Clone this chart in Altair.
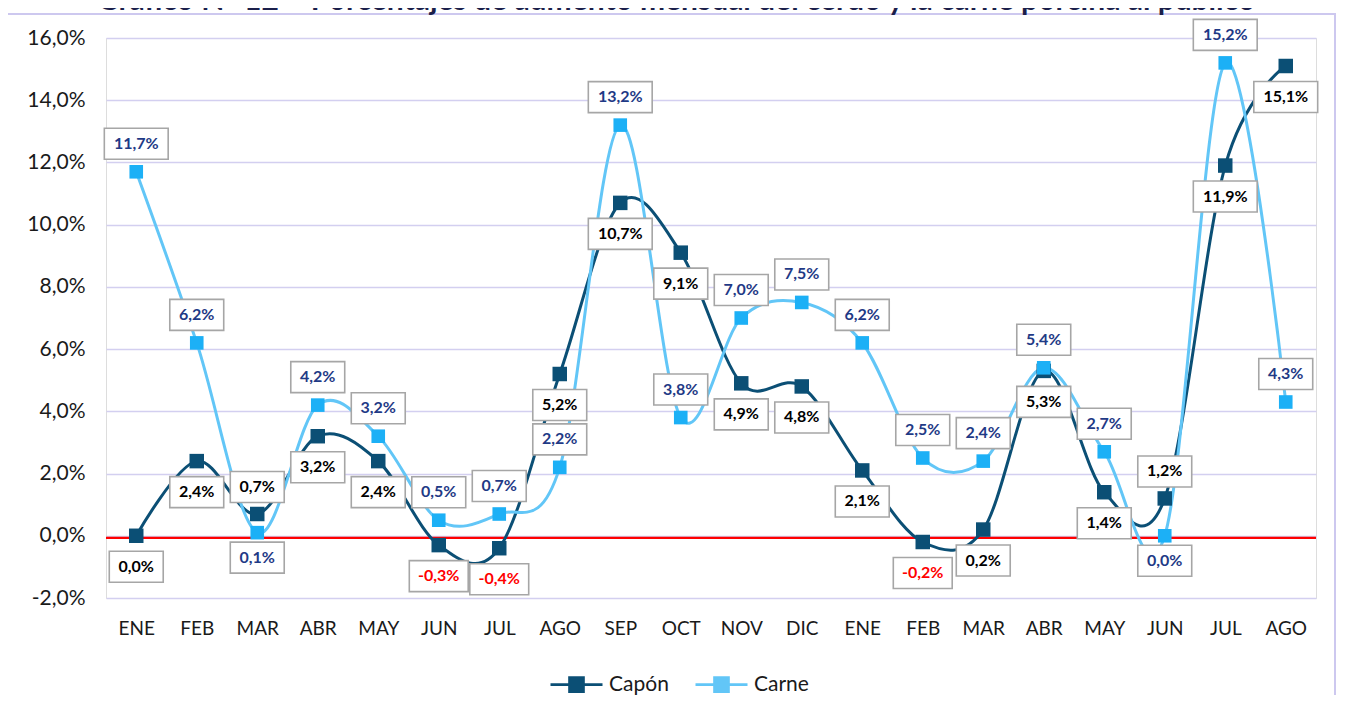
import altair as alt
import pandas as pd

TITLE = "Gráfico N° 12 – Porcentajes de aumento mensual del cerdo y la carne porcina al público"

months = ["ENE", "FEB", "MAR", "ABR", "MAY", "JUN", "JUL", "AGO", "SEP", "OCT",
          "NOV", "DIC", "ENE", "FEB", "MAR", "ABR", "MAY", "JUN", "JUL", "AGO"]
capon = [0.0, 2.4, 0.7, 3.2, 2.4, -0.3, -0.4, 5.2, 10.7, 9.1,
         4.9, 4.8, 2.1, -0.2, 0.2, 5.3, 1.4, 1.2, 11.9, 15.1]
carne = [11.7, 6.2, 0.1, 4.2, 3.2, 0.5, 0.7, 2.2, 13.2, 3.8,
         7.0, 7.5, 6.2, 2.5, 2.4, 5.4, 2.7, 0.0, 15.2, 4.3]
# label placement (above / below the marker)
capon_side = ["below", "below", "above", "below", "below", "below", "below", "below", "below", "below",
              "below", "below", "below", "below", "below", "below", "below", "above", "below", "below"]
carne_side = ["above", "above", "below", "above", "above", "above", "above", "above", "above", "above",
              "above", "above", "above", "above", "above", "above", "above", "below", "above", "above"]
series = ["Capón", "Carne"]
y_ticks = [-2, 0, 2, 4, 6, 8, 10, 12, 14, 16]

COL_CAPON = "#0b4f75"
COL_CARNE_LINE = "#62c6f7"
COL_CARNE_PT = "#1cb0f6"
FONT = "Lato"


def fmt(v):
    return f"{v:.1f}".replace(".", ",") + "%"


rows = []
for name, vals, sides in [("Capón", capon, capon_side), ("Carne", carne, carne_side)]:
    for i, (v, s) in enumerate(zip(vals, sides)):
        lab = fmt(v)
        if name == "Capón":
            tc = "#ff0000" if v < 0 else "#000000"
            pc = COL_CAPON
        else:
            tc = "#1f3a86"
            pc = COL_CARNE_PT
        if lab.startswith("-"):
            half = 0.95
        elif len(lab) >= 5:
            half = 1.03
        else:
            half = 0.87
        rows.append(dict(idx=i, serie=name, value=v, side=s, label=lab, tcolor=tc,
                         pcolor=pc, box=f"M{-half},-0.5H{half}V0.5H{-half}Z"))
df = pd.DataFrame(rows)

month_arr = "[" + ",".join(f"'{m}'" for m in months) + "]"

x_enc = alt.X("idx:O", scale=alt.Scale(type="point", padding=0.5),
              axis=alt.Axis(title=None, labelExpr=month_arr + "[datum.value]", labelAngle=0,
                            domain=False, ticks=False, grid=False, labelPadding=21,
                            labelFontSize=19, labelFont=FONT, labelColor="#1a1a1a"))
y_enc = alt.Y("value:Q", scale=alt.Scale(domain=[-2, 16], nice=False, zero=False),
              axis=alt.Axis(title=None, values=y_ticks,
                            labelExpr="replace(replace(format(datum.value, '.1f'), '.', ','), '\u2212', '-') + '%'",
                            domain=False, ticks=False, grid=True, gridColor="#d3cff0",
                            gridWidth=1.5, labelPadding=21, labelFontSize=21,
                            labelFont=FONT, labelColor="#1a1a1a"))

base = alt.Chart(df)

border = alt.Chart(pd.DataFrame({"k": [0]})).mark_rect(
    fill="transparent", stroke="#cdc8ef", strokeWidth=2
).encode(x=alt.value(-99), x2=alt.value(1229), y=alt.value(-24), y2=alt.value(720))

title = alt.Chart(pd.DataFrame({"t": [TITLE]})).mark_text(
    font=FONT, fontWeight="bold", fontSize=30, color="#1b1f4b",
    align="center", baseline="alphabetic"
).encode(x=alt.value(570), y=alt.value(-28), text="t:N")

zero = alt.Chart(pd.DataFrame({"value": [0.0]})).mark_rule(
    color="#ff0000", strokeWidth=2.2, yOffset=2
).encode(y="value:Q")

# legend symbol: a line with a (solid, via nested outlines) square in the middle
LEG_SYMBOL = ("M-1,0H1"
              "M-0.27,-0.27H0.27V0.27H-0.27Z"
              "M-0.18,-0.18H0.18V0.18H-0.18Z"
              "M-0.09,-0.09H0.09V0.09H-0.09Z"
              "M-0.02,-0.02H0.02V0.02H-0.02Z")

color_enc = alt.Color("serie:N", sort=series,
                      scale=alt.Scale(domain=series, range=[COL_CAPON, COL_CARNE_LINE]),
                      legend=alt.Legend(
                          title=None, orient="none", direction="horizontal",
                          legendX=443, legendY=619, padding=0,
                          symbolType=LEG_SYMBOL, symbolSize=2704, symbolStrokeWidth=2.6,
                          labelFont=FONT, labelFontSize=21, labelColor="#1a1a1a",
                          labelOffset=5, columnPadding=21))

lines = []
for name in series:
    lines.append(
        base.transform_filter(alt.datum.serie == name).mark_line(
            interpolate="cardinal", tension=0, strokeWidth=3
        ).encode(x=x_enc, y=y_enc, color=color_enc)
    )

points = []
for name, sz in [("Capón", 210), ("Carne", 185)]:
    points.append(
        base.transform_filter(alt.datum.serie == name).mark_point(
            shape="square", filled=True, size=sz, opacity=1
        ).encode(x=x_enc, y=y_enc, color=alt.Color("pcolor:N", scale=None))
    )

offsets = {("Capón", "below"): 31, ("Capón", "above"): -27,
           ("Carne", "above"): -28, ("Carne", "below"): 25}

boxes = []
texts = []
for (name, side), dy in offsets.items():
    sub = base.transform_filter((alt.datum.serie == name) & (alt.datum.side == side))
    boxes.append(
        sub.mark_point(filled=True, fill="white", stroke="#a6a6a6", strokeWidth=1.6,
                       opacity=1, size=3844, yOffset=dy).encode(
            x=x_enc, y=y_enc, shape=alt.Shape("box:N", scale=None)
        )
    )
    texts.append(
        sub.mark_text(font=FONT, fontWeight="bold", fontSize=16, baseline="middle",
                      align="center", dy=dy).encode(
            x=x_enc, y=y_enc, text="label:N", color=alt.Color("tcolor:N", scale=None)
        )
    )

chart = alt.layer(border, title, zero, *lines, *points, *boxes, *texts).properties(
    width=1210, height=560,
    autosize=alt.AutoSizeParams(type="none"),
    padding={"left": 98, "top": 30, "right": 22, "bottom": 97},
).configure_view(stroke=None).configure(background="white")

chart.save("out.html", embed_options={"renderer": "svg", "actions": False})
